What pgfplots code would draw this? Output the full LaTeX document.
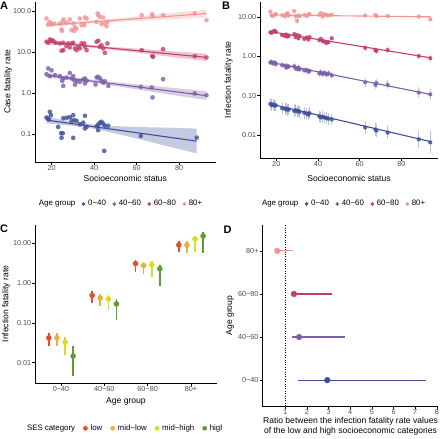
\documentclass[border=0pt]{standalone}
\usepackage{fontspec}
\setmainfont{Liberation Sans}
\usepackage{pgfplots}
\pgfplotsset{compat=1.18}
\definecolor{cA}{HTML}{3E4E9B}
\definecolor{cB}{HTML}{7B5EA7}
\definecolor{cC}{HTML}{C43B6E}
\definecolor{cD}{HTML}{F29393}
\definecolor{sLow}{HTML}{E0502A}
\definecolor{sMl}{HTML}{E8B040}
\definecolor{sMh}{HTML}{DCDC1E}
\definecolor{sHi}{HTML}{5E9E2E}
\definecolor{tickgray}{HTML}{4D4D4D}
\pgfplotsset{
  gg/.style={
    scale only axis,
    axis lines=left,
    axis line style={-, line width=0.7bp, black},
    tick align=outside,
    major tick length=2.6bp,
    minor tick length=0pt,
    tick style={black, line width=0.6bp},
    tick label style={font=\fontsize{7.3}{8.5}\selectfont, text=tickgray, inner sep=1bp},
    label style={font=\fontsize{8.6}{9.2}\selectfont, text=black},
    /pgf/number format/assume math mode=true,
    legend columns=5,
    legend cell align=left,
    legend style={draw=none, fill=none, inner sep=0pt, outer sep=0pt,
      font=\fontsize{7.9}{9}\selectfont,
      /tikz/every odd column/.append style={column sep=2.8bp},
      /tikz/every even column/.append style={column sep=6.5bp},
      nodes={inner sep=0pt}},
  },
  dot/.style={legend image code/.code={\fill[#1] (0bp,0bp) circle (1.6bp);}},
  bigdot/.style={legend image code/.code={\fill[#1] (0bp,0bp) circle (2.1bp);}},
  ptsA/.style={color=#1, only marks, mark=*, mark size=2.2bp, mark options={solid, draw=#1, fill=#1, line width=0.1bp, fill opacity=0.8, draw opacity=0.8}, forget plot},
  ribA/.style={fill=#1, fill opacity=0.3, draw=none, forget plot},
  lnA/.style={#1, line width=1.1bp, forget plot},
  ptsB/.style={color=#1, only marks, mark=*, mark size=2bp, mark options={solid, draw=#1, fill=#1, line width=0.1bp, fill opacity=0.85, draw opacity=0.85}, forget plot,
    error bars/y dir=both, error bars/y explicit relative, error bars/error mark=none,
    error bars/error bar style={draw=#1, opacity=0.35, line width=1bp}},
  ptsC/.style={color=#1, only marks, mark=*, mark size=2.7bp, mark options={solid, draw=#1, fill=#1, line width=0.1bp}, forget plot,
    error bars/y dir=both, error bars/y explicit, error bars/error mark=none,
    error bars/error bar style={draw=#1, line width=1.6bp}},
  ptsD/.style={color=#1, only marks, mark=*, mark size=3bp, mark options={solid, draw=#1, fill=#1, line width=0.1bp}, forget plot,
    error bars/x dir=both, error bars/x explicit, error bars/error mark=none,
    error bars/error bar style={draw=#1, line width=1.1bp}},
}
\begin{document}
\begin{tikzpicture}
\useasboundingbox (0,0) rectangle (440bp,439bp);

% ---------------- Panel A ----------------
\begin{axis}[gg, at={(35bp,277bp)}, anchor=south west, width=180.6bp, height=160.3bp,
  xmin=12.2, xmax=97.2, ymode=log, ymin=0.0209, ymax=170,
  xtick={20,40,60,80}, ytick={0.1,1,10,100}, yticklabels={0.1,1.0,10.0,100.0},
  xlabel={Socioeconomic status}, ylabel={Case fatality rate},
  xlabel style={at={(axis description cs:0.5,-0.102)}, anchor=center},
  ylabel style={at={(axis description cs:-0.148,0.5)}, anchor=center},
  legend style={at={(axis description cs:0.0066,-0.262)}, anchor=west}]
% 80+
\addplot[ptsA=cD] coordinates {(17.6,66.2)(18.4,48.2)(19.2,54.9)(20.0,48.2)(21.2,50.1)(23.9,50.1)(24.7,35.7)(24.9,33.1)(25.5,54.9)(25.6,62.7)(27.0,51.9)(28.6,62.7)(29.4,34.4)(30.2,50.1)(30.6,33.1)(31.0,40.0)(31.7,37.8)(33.3,66.2)(34.1,45.6)(35.4,45.6)(35.7,70.1)(36.5,66.2)(41.2,54.9)(41.7,87.8)(42.0,79.8)(42.7,72.6)(43.5,48.2)(44.3,70.1)(45.1,50.1)(45.9,43.1)(46.3,54.9)(62.4,79.8)(67.4,84.5)(67.6,75.5)(72.5,79.8)(87.4,88.0)(92.9,60.0)};
% 60-80
\addplot[ptsA=cC] coordinates {(17.6,17.9)(18.4,16.9)(19.2,20.4)(20.0,19.6)(20.8,18.9)(21.9,16.9)(23.9,16.3)(24.7,10.8)(25.5,11.2)(25.5,16.9)(27.0,14.0)(27.8,16.3)(28.6,13.0)(29.4,16.3)(30.2,16.9)(31.0,12.3)(31.8,11.2)(32.5,13.5)(33.3,12.3)(34.1,16.3)(35.4,16.3)(35.7,13.5)(36.5,11.2)(41.2,17.9)(42.0,18.9)(42.7,13.5)(43.5,14.8)(44.3,12.3)(45.1,9.6)(46.3,16.3)(62.4,11.2)(67.4,8.0)(67.8,7.7)(72.5,11.8)(87.4,8.0)(92.9,7.4)};
% 40-60
\addplot[ptsA=cB] coordinates {(17.6,2.9)(18.4,4.0)(19.2,2.6)(20.0,3.6)(21.6,2.75)(23.9,2.6)(25.0,2.0)(25.5,2.28)(25.5,1.5)(27.1,2.4)(28.6,3.1)(29.4,2.28)(30.2,2.6)(30.6,2.07)(31.0,1.6)(31.8,1.9)(33.3,1.9)(34.9,2.15)(35.7,2.28)(35.7,1.72)(36.5,2.0)(40.7,1.62)(41.2,2.41)(41.9,2.5)(42.7,2.3)(43.5,2.0)(44.3,1.79)(45.1,1.95)(46.7,1.5)(62.0,1.43)(67.1,1.38)(67.5,0.785)(72.5,2.19)(87.4,0.98)(92.9,0.89)};
% 0-40
\addplot[ptsA=cA] coordinates {(17.6,0.255)(18.4,0.24)(18.7,0.228)(19.2,0.35)(19.7,0.29)(23.1,0.15)(24.5,0.105)(24.7,0.081)(25.3,0.105)(25.5,0.245)(27.1,0.25)(28.6,0.26)(29.4,0.21)(30.2,0.29)(30.2,0.081)(30.6,0.22)(31.8,0.21)(33.3,0.175)(34.9,0.19)(35.7,0.28)(35.7,0.137)(36.5,0.151)(41.2,0.155)(41.9,0.17)(42.7,0.19)(43.5,0.2)(44.3,0.18)(41.9,0.125)(45.1,0.16)(44.8,0.039)(46.6,0.16)(62.0,0.09)(88.3,0.082)};
% ribbons
\addplot[ribA=cD] coordinates {(17.6,50.8)(30,54.6)(45,62.2)(60,74.3)(75,88.9)(92.9,108)(92.9,70.4)(75,62.7)(60,57.7)(45,53.0)(30,46.4)(17.6,40.0)} -- cycle;
\addplot[ribA=cC] coordinates {(17.6,19.9)(30,16.4)(45,13.8)(60,12.2)(75,10.7)(92.9,9.2)(92.9,6.05)(75,7.8)(60,9.7)(45,12.0)(30,14.3)(17.6,15.7)} -- cycle;
\addplot[ribA=cB] coordinates {(17.6,3.12)(30,2.44)(45,1.97)(60,1.64)(75,1.38)(92.9,1.11)(92.9,0.68)(75,0.93)(60,1.24)(45,1.64)(30,2.08)(17.6,2.38)} -- cycle;
\addplot[ribA=cA] coordinates {(17.6,0.263)(30,0.200)(40,0.170)(50,0.157)(62,0.148)(75,0.144)(88.3,0.136)(88.3,0.034)(75,0.050)(62,0.074)(50,0.104)(40,0.135)(30,0.159)(17.6,0.184)} -- cycle;
% fitted lines
\addplot[lnA=cD] coordinates {(17.6,45.2)(92.9,87.3)};
\addplot[lnA=cC] coordinates {(17.6,17.66)(92.9,7.45)};
\addplot[lnA=cB] coordinates {(17.6,2.72)(92.9,0.867)};
\addplot[lnA=cA] coordinates {(17.6,0.220)(88.3,0.0676)};
\addlegendimage{empty legend}\addlegendentry{Age group}
\addlegendimage{dot=cA}\addlegendentry{0−40}
\addlegendimage{dot=cB}\addlegendentry{40−60}
\addlegendimage{dot=cC}\addlegendentry{60−80}
\addlegendimage{dot=cD}\addlegendentry{80+}
\end{axis}

% ---------------- Panel B ----------------
\begin{axis}[gg, at={(260bp,281bp)}, anchor=south west, width=178bp, height=156.3bp,
  xmin=12.2, xmax=97.5, ymode=log, ymin=0.0026, ymax=24.7,
  xtick={20,40,60,80}, ytick={0.01,0.1,1,10}, yticklabels={0.01,0.10,1.00,10.00},
  xlabel={Socioeconomic status}, ylabel={Infection fatality rate},
  xlabel style={at={(axis description cs:0.5,-0.13)}, anchor=center},
  ylabel style={at={(axis description cs:-0.176,0.5)}, anchor=center},
  legend style={at={(axis description cs:-0.0045,-0.294)}, anchor=west}]
% 80+
\addplot[ptsB=cD] table[x=x, y=y, y error plus=rp, y error minus=rm] {
x y rp rm
17.2 13.8 0.12 0.11
17.8 11.0 0.12 0.11
18.5 10.8 0.12 0.11
19.3 11.5 0.12 0.11
19.8 11.9 0.12 0.11
22.8 11.2 0.12 0.11
24.2 10.5 0.12 0.11
24.8 11.8 0.12 0.11
25.4 12.5 0.12 0.11
26.0 11.0 0.12 0.11
28.6 14.2 0.12 0.11
29.3 10.5 0.12 0.11
30.0 8.0 0.25 0.20
30.6 11.0 0.12 0.11
31.2 10.6 0.12 0.11
33.4 11.3 0.12 0.11
34.6 10.8 0.12 0.11
35.4 11.6 0.12 0.11
35.9 12.0 0.12 0.11
40.6 11.5 0.12 0.11
41.4 12.6 0.12 0.11
42.2 10.4 0.12 0.11
43.0 11.8 0.12 0.11
44.0 11.3 0.12 0.11
45.0 11.0 0.12 0.11
46.6 11.5 0.12 0.11
62.6 11.0 0.12 0.11
67.5 11.3 0.12 0.11
68.0 10.6 0.12 0.11
73.4 10.7 0.12 0.11
88.3 10.3 0.14 0.12
93.8 8.8 0.20 0.17
};
% 60-80
\addplot[ptsB=cC] table[x=x, y=y, y error plus=rp, y error minus=rm] {
x y rp rm
17.2 4.1 0.12 0.11
17.8 4.0 0.12 0.11
18.5 4.3 0.12 0.11
19.3 4.5 0.12 0.11
19.8 4.2 0.12 0.11
22.8 3.5 0.12 0.11
24.2 3.3 0.12 0.11
24.8 3.6 0.12 0.11
25.4 3.2 0.12 0.11
26.0 3.4 0.12 0.11
28.6 3.7 0.12 0.11
29.3 3.1 0.12 0.11
30.0 3.5 0.12 0.11
30.6 2.9 0.12 0.11
31.2 3.3 0.12 0.11
33.4 2.8 0.12 0.11
34.6 3.0 0.12 0.11
35.4 2.7 0.12 0.11
35.9 3.1 0.12 0.11
40.6 2.6 0.12 0.11
41.4 2.8 0.12 0.11
42.2 2.5 0.12 0.11
43.0 2.4 0.12 0.11
44.0 2.2 0.12 0.11
45.0 2.3 0.12 0.11
46.6 2.9 0.12 0.11
62.6 1.65 0.18 0.15
67.5 1.45 0.18 0.15
68.0 1.38 0.18 0.15
73.4 1.45 0.18 0.15
88.3 1.02 0.22 0.18
93.8 0.90 0.22 0.18
};
% 40-60
\addplot[ptsB=cB] table[x=x, y=y, y error plus=rp, y error minus=rm] {
x y rp rm
17.2 0.70 0.18 0.15
17.8 0.72 0.18 0.15
18.5 0.66 0.18 0.15
19.3 0.70 0.18 0.15
19.8 0.64 0.18 0.15
22.8 0.60 0.18 0.15
24.2 0.58 0.18 0.15
24.8 0.52 0.18 0.15
25.4 0.56 0.18 0.15
26.0 0.55 0.18 0.15
28.6 0.56 0.18 0.15
29.3 0.50 0.18 0.15
30.0 0.48 0.18 0.15
30.6 0.52 0.18 0.15
31.2 0.47 0.18 0.15
33.4 0.44 0.18 0.15
34.6 0.45 0.18 0.15
35.4 0.41 0.18 0.15
35.9 0.43 0.18 0.15
40.6 0.37 0.20 0.17
41.4 0.39 0.20 0.17
42.2 0.36 0.20 0.17
43.0 0.38 0.20 0.17
44.0 0.35 0.20 0.17
45.0 0.37 0.20 0.17
46.6 0.33 0.20 0.17
62.6 0.22 0.30 0.23
67.5 0.19 0.30 0.23
68.0 0.21 0.30 0.23
73.4 0.19 0.30 0.23
88.3 0.12 0.40 0.29
93.8 0.108 0.40 0.29
};
% 0-40
\addplot[ptsB=cA] table[x=x, y=y, y error plus=rp, y error minus=rm] {
x y rp rm
17.2 0.062 0.40 0.29
17.8 0.058 0.40 0.29
18.5 0.060 0.40 0.29
19.3 0.056 0.40 0.29
19.8 0.057 0.40 0.29
22.8 0.048 0.40 0.29
24.2 0.046 0.40 0.29
24.8 0.047 0.40 0.29
25.4 0.044 0.40 0.29
26.0 0.045 0.40 0.29
28.6 0.041 0.40 0.29
29.3 0.043 0.40 0.29
30.0 0.040 0.40 0.29
30.6 0.041 0.40 0.29
31.2 0.039 0.40 0.29
33.4 0.037 0.40 0.29
34.6 0.035 0.40 0.29
35.4 0.033 0.40 0.29
35.9 0.036 0.40 0.29
40.6 0.030 0.40 0.29
41.4 0.028 0.40 0.29
42.2 0.029 0.40 0.29
43.0 0.028 0.40 0.29
44.0 0.027 0.40 0.29
45.0 0.026 0.40 0.29
46.6 0.025 0.40 0.29
62.6 0.0155 0.45 0.31
67.5 0.0138 0.45 0.31
68.0 0.0130 0.45 0.31
73.4 0.0115 0.50 0.33
88.3 0.0078 0.65 0.39
93.8 0.0065 0.90 0.47
};
\addplot[lnA=cD] coordinates {(17.2,11.3)(93.8,10.2)};
\addplot[lnA=cC] coordinates {(17.2,4.27)(93.8,0.925)};
\addplot[lnA=cB] coordinates {(17.2,0.71)(93.8,0.108)};
\addplot[lnA=cA] coordinates {(17.2,0.0617)(93.8,0.00682)};
\addlegendimage{empty legend}\addlegendentry{Age group}
\addlegendimage{dot=cA}\addlegendentry{0−40}
\addlegendimage{dot=cB}\addlegendentry{40−60}
\addlegendimage{dot=cC}\addlegendentry{60−80}
\addlegendimage{dot=cD}\addlegendentry{80+}
\end{axis}

% ---------------- Panel C ----------------
\begin{scope}
\clip (0,0) rectangle (221bp,439bp);
\begin{axis}[gg, at={(35bp,56bp)}, anchor=south west, width=182bp, height=158bp,
  xmin=0.4, xmax=4.6, ymode=log, ymin=0.00309, ymax=28.8,
  xtick={1,2,3,4}, xticklabels={0−40,40−60,60−80,80+},
  ytick={0.01,0.1,1,10}, yticklabels={0.01,0.10,1.00,10.00},
  xlabel={Age group}, ylabel={Infection fatality rate},
  xlabel style={at={(axis description cs:0.5,-0.118)}, anchor=center},
  ylabel style={at={(axis description cs:-0.158,0.5)}, anchor=center},
  legend style={at={(axis description cs:-0.0593,-0.2867)}, anchor=west,
    /tikz/every even column/.append style={column sep=8bp}}]
\addplot[ptsC=sLow] table[x=x, y=y, y error plus=ep, y error minus=em] {
x y ep em
0.72 0.042 0.014 0.016
1.72 0.49 0.13 0.174
2.72 3.1 0.7 1.15
3.72 9.1 2.5 3.15
};
\addplot[ptsC=sMl] table[x=x, y=y, y error plus=ep, y error minus=em] {
x y ep em
0.906 0.042 0.014 0.016
1.906 0.42 0.12 0.15
2.906 2.76 0.59 1.06
3.906 9.0 2.4 3.4
};
\addplot[ptsC=sMh] table[x=x, y=y, y error plus=ep, y error minus=em] {
x y ep em
1.094 0.033 0.012 0.017
2.094 0.40 0.11 0.19
3.094 2.9 0.77 1.44
4.094 12.8 2.7 6.6
};
\addplot[ptsC=sHi] table[x=x, y=y, y error plus=ep, y error minus=em] {
x y ep em
1.28 0.0146 0.0124 0.0099
2.28 0.30 0.11 0.184
3.28 2.3 0.6 1.45
4.28 15.2 3.6 9.6
};
\addlegendimage{empty legend}\addlegendentry{SES category}
\addlegendimage{bigdot=sLow}\addlegendentry{low}
\addlegendimage{bigdot=sMl}\addlegendentry{mid−low}
\addlegendimage{bigdot=sMh}\addlegendentry{mid−high}
\addlegendimage{bigdot=sHi}\addlegendentry{high}
\end{axis}
\end{scope}

% ---------------- Panel D ----------------
\begin{axis}[gg, at={(262.3bp,33bp)}, anchor=south west, width=175.7bp, height=181bp,
  xmin=-0.06, xmax=8.05, ymin=0.4, ymax=4.6,
  xtick={1,2,3,4,5,6,7,8},
  ytick={1,2,3,4}, yticklabels={0−40,40−60,60−80,80+},
  xlabel={Ratio between the infection fatality rate values\\of the low and high socioeconomic categories},
  ylabel={Age group},
  xlabel style={at={(axis description cs:0.502,-0.0635)}, anchor=north, align=center, inner sep=0pt},
  ylabel style={at={(axis description cs:-0.184,0.5)}, anchor=center}]
\addplot[black, line width=0.7bp, dash pattern=on 0.8bp off 1.6bp, forget plot] coordinates {(1,0.4)(1,4.6)};
\addplot[ptsD=cD] table[x=x, y=y, x error plus=ep, x error minus=em] {
x y ep em
0.63 4 0.75 0.13
};
\addplot[ptsD=cC] table[x=x, y=y, x error plus=ep, x error minus=em] {
x y ep em
1.40 3 1.74 0.11
};
\addplot[ptsD=cB] table[x=x, y=y, x error plus=ep, x error minus=em] {
x y ep em
1.64 2 2.10 0.35
};
\addplot[ptsD=cA] table[x=x, y=y, x error plus=ep, x error minus=em] {
x y ep em
2.94 1 4.55 1.34
};
\end{axis}

% panel tags
\node[font=\fontsize{11}{13}\selectfont\bfseries] at (4bp,433bp) {A};
\node[font=\fontsize{11}{13}\selectfont\bfseries] at (226bp,433bp) {B};
\node[font=\fontsize{11}{13}\selectfont\bfseries] at (4bp,210bp) {C};
\node[font=\fontsize{11}{13}\selectfont\bfseries] at (227.5bp,209.5bp) {D};
\end{tikzpicture}
\end{document}
